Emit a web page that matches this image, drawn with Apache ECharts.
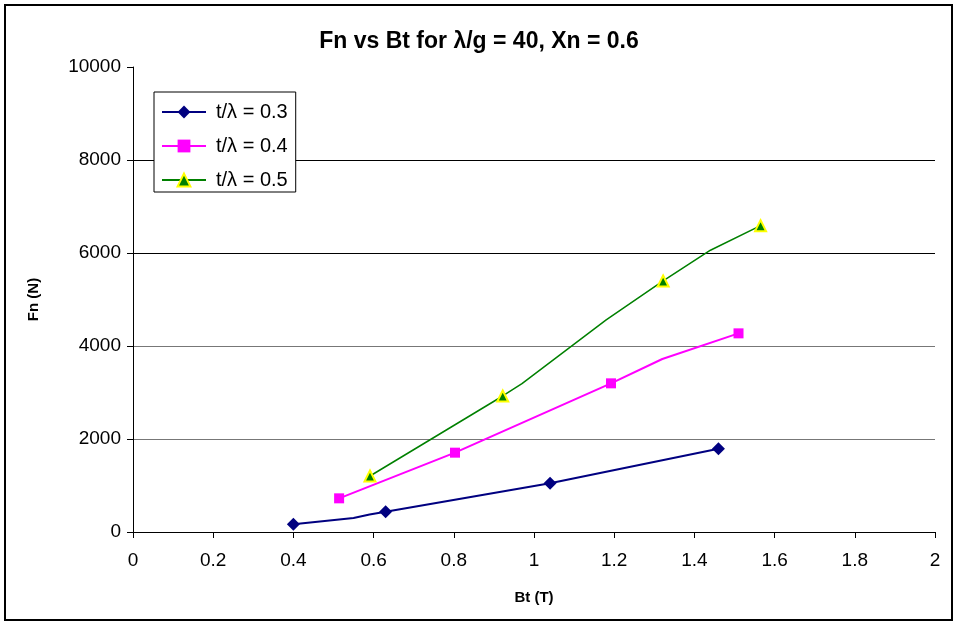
<!DOCTYPE html>
<html>
<head>
<meta charset="utf-8">
<script src="https://cdn.jsdelivr.net/npm/echarts@6/dist/echarts.min.js"></script>
<style>
  html, body { margin: 0; padding: 0; background: #fff; }
  #frame { position: absolute; left: 4px; top: 4px; width: 949px; height: 617px; border: 2px solid #000; box-sizing: border-box; }
  #chart { position: absolute; left: 0; top: 0; width: 958px; height: 634px; }
</style>
</head>
<body>
<div id="chart"></div>
<div id="frame"></div>
<script>
// Measured points; entries flagged false are bends of the drawn curve (no marker)
const bt03 = [0.40, 0.55, 0.59, 0.63, 1.04, 1.46];
const fn03 = [166, 300, 375, 437, 1047, 1792];
const mk03 = [true, false, false, true, true, true];

const bt04 = [0.514, 0.803, 1.192, 1.32, 1.51];
const fn04 = [724, 1706, 3197, 3720, 4272];
const mk04 = [true, true, true, false, true];

const bt05 = [0.591, 0.922, 0.97, 1.18, 1.322, 1.44, 1.565];
const fn05 = [1204, 2925, 3190, 4560, 5398, 6060, 6588];
const mk05 = [true, true, false, false, true, false, true];

const seriesNames = ['t/λ = 0.3', 't/λ = 0.4', 't/λ = 0.5'];
const xTicks = [0, 0.2, 0.4, 0.6, 0.8, 1, 1.2, 1.4, 1.6, 1.8, 2];
const yTicks = [0, 2000, 4000, 6000, 8000, 10000];

const FONT = 'Liberation Sans, Arial, Helvetica, sans-serif';

function pts(xs, ys, marks) {
  return xs.map((x, i) => marks[i] ? [x, ys[i]] : { value: [x, ys[i]], symbol: 'none' });
}

const chart = echarts.init(document.getElementById('chart'), null, { renderer: 'canvas' });
chart.setOption({
  animation: false,
  backgroundColor: '#fff',
  title: {
    text: 'Fn vs Bt for λ/g = 40, Xn = 0.6',
    left: 'center',
    top: 25,
    textStyle: { fontFamily: FONT, fontSize: 23, fontWeight: 'bold', color: '#000' }
  },
  grid: { left: 133, right: 23, top: 67, bottom: 102, containLabel: false },
  legend: {
    orient: 'vertical',
    left: 154,
    top: 92,
    padding: [10, 8, 2, 7],
    itemGap: 14,
    itemWidth: 44,
    itemHeight: 16,
    backgroundColor: '#fff',
    borderColor: '#000',
    borderWidth: 1,
    borderRadius: 0,
    textStyle: { fontFamily: FONT, fontSize: 20, lineHeight: 20, color: '#000', padding: [0, 0, 0, 5] },
    data: seriesNames
  },
  xAxis: {
    type: 'value',
    min: xTicks[0],
    max: xTicks[xTicks.length - 1],
    interval: 0.2,
    name: 'Bt (T)',
    nameLocation: 'middle',
    nameGap: 58,
    nameTextStyle: { fontFamily: FONT, fontSize: 15, fontWeight: 'bold', color: '#000' },
    axisLine: { lineStyle: { color: '#000', width: 1 } },
    axisTick: { show: true, length: 6, inside: false, lineStyle: { color: '#000' } },
    axisLabel: { fontFamily: FONT, fontSize: 19, color: '#000', margin: 19,
                 formatter: v => String(Math.round(v * 10) / 10) },
    splitLine: { show: false }
  },
  yAxis: {
    type: 'value',
    min: yTicks[0],
    max: yTicks[yTicks.length - 1],
    interval: 2000,
    name: 'Fn (N)',
    nameLocation: 'middle',
    nameGap: 92,
    nameRotate: 90,
    nameTextStyle: { fontFamily: FONT, fontSize: 15, fontWeight: 'bold', color: '#000' },
    axisLine: { show: true, lineStyle: { color: '#000', width: 1 } },
    axisTick: { show: true, length: 6, inside: false, lineStyle: { color: '#000' } },
    axisLabel: { fontFamily: FONT, fontSize: 19, color: '#000', margin: 12,
                 formatter: v => String(v) },
    splitLine: {
      show: true,
      lineStyle: { color: ['#000', '#777', '#777', '#000', '#000', 'rgba(0,0,0,0)'], width: 1 }
    }
  },
  series: [
    {
      name: seriesNames[0], type: 'line', smooth: false,
      data: pts(bt03, fn03, mk03),
      symbol: 'diamond', symbolSize: 13,
      lineStyle: { color: '#000080', width: 2 },
      itemStyle: { color: '#000080' }
    },
    {
      name: seriesNames[1], type: 'line', smooth: false,
      data: pts(bt04, fn04, mk04),
      symbol: 'rect', symbolSize: 10,
      lineStyle: { color: '#FF00FF', width: 2 },
      itemStyle: { color: '#FF00FF' }
    },
    {
      name: seriesNames[2], type: 'line', smooth: false,
      data: pts(bt05, fn05, mk05),
      symbol: 'triangle', symbolSize: 11,
      lineStyle: { color: '#008000', width: 1.5 },
      itemStyle: { color: '#008000', borderColor: '#FFFF00', borderWidth: 2 }
    }
  ]
});
</script>
</body>
</html>
